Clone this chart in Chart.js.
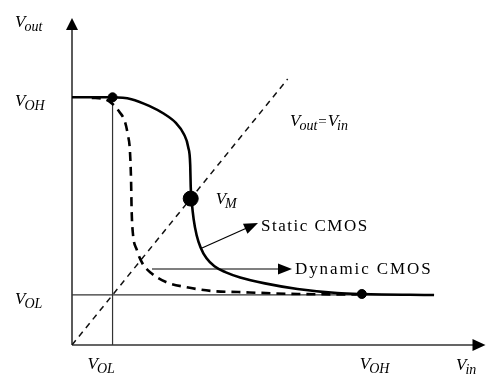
<!DOCTYPE html>
<html>
<head>
<meta charset="utf-8">
<title>CMOS inverter transfer characteristic</title>
<script src="https://cdn.jsdelivr.net/npm/chart.js@4.4.1/dist/chart.umd.min.js"></script>
<style>
  body { margin: 0; background: #fff; }
  #wrap { width: 491px; height: 376px; }
</style>
</head>
<body>
<div id="wrap"><canvas id="vtcChart" width="491" height="376"></canvas></div>
<script>
// Static CMOS transfer curve (Vin, Vout)
var staticVin  = [0, 0.41, 0.60, 0.78, 0.93, 1.05, 1.13, 1.175, 1.195, 1.20, 1.21, 1.23, 1.26, 1.30, 1.36, 1.44, 1.55, 1.70, 1.95, 2.28, 2.68, 2.93, 3.66];
var staticVout = [2.03, 2.03, 2.015, 1.96, 1.895, 1.82, 1.73, 1.62, 1.475, 1.30, 1.18, 1.03, 0.90, 0.80, 0.71, 0.645, 0.597, 0.553, 0.505, 0.459, 0.426, 0.418, 0.41];

// Dynamic CMOS transfer curve
var dynamicVin  = [0.20, 0.33, 0.41, 0.48, 0.535, 0.565, 0.585, 0.597, 0.603, 0.615, 0.655, 0.71, 0.80, 0.95, 1.15, 1.41, 1.68, 2.28, 2.88];
var dynamicVout = [2.025, 2.016, 1.975, 1.91, 1.83, 1.72, 1.60, 1.35, 1.10, 0.92, 0.78, 0.672, 0.59, 0.516, 0.475, 0.443, 0.434, 0.418, 0.414];

// Vout = Vin reference line
var unityVin = [0, 2.18];

// Marked points: (VOL, VOH), VM, (VOH, VOL)
var markerVin  = [0.41, 1.2, 2.93];
var markerVout = [2.03, 1.2, 0.418];

// Level ticks
var xTickValues = [0.41, 2.93];
var xTickSubs   = ["OL", "OH"];
var yTickValues = [0.41, 2.03];
var yTickSubs   = ["OL", "OH"];

var VOL = 0.41;
var VOL_END = 3.66;
var VOH = 2.03;

function pairs(xs, ys) {
  return xs.map(function(x, i) { return { x: x, y: ys[i] }; });
}

var SERIF = '"Liberation Serif", "Times New Roman", serif';

// draws V with an italic subscript, returns end x
function drawVar(ctx, sub, x, y) {
  ctx.font = "italic 17px " + SERIF;
  ctx.fillText("V", x, y);
  var w = ctx.measureText("V").width - 1;
  ctx.font = "italic 14px " + SERIF;
  ctx.fillText(sub, x + w, y + 4);
  return x + w + ctx.measureText(sub).width;
}

function arrowHead(ctx, x1, y1, x2, y2, len, half) {
  var a = Math.atan2(y2 - y1, x2 - x1);
  ctx.beginPath();
  ctx.moveTo(x2, y2);
  ctx.lineTo(x2 - len * Math.cos(a) + half * Math.sin(a), y2 - len * Math.sin(a) - half * Math.cos(a));
  ctx.lineTo(x2 - len * Math.cos(a) - half * Math.sin(a), y2 - len * Math.sin(a) + half * Math.cos(a));
  ctx.closePath();
  ctx.fill();
}

function arrow(ctx, x1, y1, x2, y2) {
  ctx.beginPath();
  ctx.moveTo(x1, y1);
  ctx.lineTo(x2 - (x2 - x1) * 0.05, y2 - (y2 - y1) * 0.05);
  ctx.stroke();
  arrowHead(ctx, x1, y1, x2, y2, 14, 5.5);
}

var diagramPlugin = {
  id: "diagram",
  beforeDraw: function(chart) {
    var ctx = chart.ctx;
    ctx.save();
    ctx.fillStyle = "#fff";
    ctx.fillRect(0, 0, chart.width, chart.height);
    ctx.restore();
  },
  beforeDatasetsDraw: function(chart) {
    var ctx = chart.ctx;
    var xs = chart.scales.x, ys = chart.scales.y;
    var x0 = xs.getPixelForValue(0), y0 = ys.getPixelForValue(0);
    ctx.save();
    ctx.strokeStyle = "#333";
    ctx.fillStyle = "#000";
    ctx.lineWidth = 1.6;
    // axes with arrow heads
    ctx.beginPath();
    ctx.moveTo(x0, y0);
    ctx.lineTo(x0, chart.chartArea.top + 8);
    ctx.moveTo(x0, y0);
    ctx.lineTo(chart.chartArea.right - 8, y0);
    ctx.stroke();
    arrowHead(ctx, x0, y0, x0, chart.chartArea.top, 12, 6);
    arrowHead(ctx, x0, y0, chart.chartArea.right, y0, 13, 6);
    ctx.restore();
  },
  afterDraw: function(chart) {
    var ctx = chart.ctx;
    var xs = chart.scales.x, ys = chart.scales.y;
    ctx.save();
    ctx.fillStyle = "#000";
    ctx.textBaseline = "alphabetic";
    ctx.textAlign = "left";

    // axis titles
    drawVar(ctx, "out", 15, 27);
    drawVar(ctx, "in", 456, 370);

    // y level labels
    for (var i = 0; i < yTickValues.length; i++) {
      drawVar(ctx, yTickSubs[i], 15, ys.getPixelForValue(yTickValues[i]) + 9);
    }
    // x level labels
    for (var j = 0; j < xTickValues.length; j++) {
      drawVar(ctx, xTickSubs[j], xs.getPixelForValue(xTickValues[j]) - 25 + j * 23, 369);
    }

    // VM label
    var vmx = xs.getPixelForValue(markerVin[1]), vmy = ys.getPixelForValue(markerVout[1]);
    drawVar(ctx, "M", vmx + 25, vmy + 5);

    // Vout = Vin
    var ex = drawVar(ctx, "out", 290, 126);
    ctx.font = "15px " + SERIF;
    ctx.fillText("=", ex + 1, 126);
    ex += 2 + ctx.measureText("=").width;
    drawVar(ctx, "in", ex, 126);

    // callout arrows
    ctx.strokeStyle = "#000";
    ctx.lineWidth = 1.2;
    arrow(ctx, 202, 248, 258, 223);
    arrow(ctx, 152, 269, 292, 269);

    ctx.font = "17px " + SERIF;
    ctx.letterSpacing = "1.5px";
    ctx.fillText("Static CMOS", 261, 231);
    ctx.letterSpacing = "1.9px";
    ctx.fillText("Dynamic CMOS", 295, 274);
    ctx.restore();
  }
};

var ctx = document.getElementById("vtcChart").getContext("2d");

new Chart(ctx, {
  type: "line",
  data: {
    datasets: [
      {
        data: pairs(markerVin, markerVout),
        showLine: false,
        pointRadius: [4.5, 7.5, 4.5],
        pointBackgroundColor: "#000",
        pointBorderColor: "#000",
        order: 0
      },
      {
        data: pairs(staticVin, staticVout),
        borderColor: "#000",
        borderWidth: 2.6,
        pointRadius: 0,
        cubicInterpolationMode: "monotone",
        order: 1
      },
      {
        data: pairs(dynamicVin, dynamicVout),
        borderColor: "#000",
        borderWidth: 2.6,
        borderDash: [9, 6],
        pointRadius: 0,
        cubicInterpolationMode: "monotone",
        order: 2
      },
      {
        data: pairs(unityVin, unityVin),
        borderColor: "#111",
        borderWidth: 1.5,
        borderDash: [6, 5],
        pointRadius: 0,
        order: 3
      },
      {
        data: [{ x: 0, y: VOL }, { x: VOL_END, y: VOL }],
        borderColor: "#333",
        borderWidth: 1.2,
        pointRadius: 0,
        order: 4
      },
      {
        data: [{ x: VOL, y: 0 }, { x: VOL, y: VOH }],
        borderColor: "#333",
        borderWidth: 1.2,
        pointRadius: 0,
        order: 5
      }
    ]
  },
  options: {
    responsive: false,
    animation: false,
    layout: {
      padding: { left: 72, right: 1, top: 18, bottom: 31 }
    },
    scales: {
      x: { type: "linear", min: 0, max: 4.18, display: false },
      y: { type: "linear", min: 0, max: 2.68, display: false }
    },
    plugins: {
      legend: { display: false },
      tooltip: { enabled: false }
    }
  },
  plugins: [diagramPlugin]
});
</script>
</body>
</html>
